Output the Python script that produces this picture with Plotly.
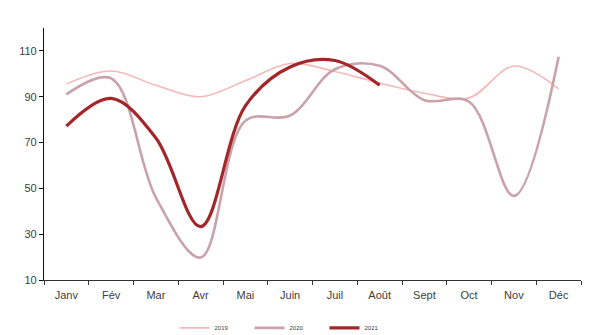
import plotly.graph_objects as go

months = ["Janv", "Fév", "Mar", "Avr", "Mai", "Juin", "Juil", "Août", "Sept", "Oct", "Nov", "Déc"]
y2019 = [95.5, 101.2, 95.0, 90.0, 97.0, 104.5, 101.0, 96.0, 91.5, 89.5, 103.4, 93.4]
y2020 = [91.0, 98.0, 46.0, 19.8, 79.5, 81.8, 102.0, 103.5, 88.5, 87.8, 46.7, 107.5]
y2021 = [77.2, 89.3, 72.0, 33.3, 86.0, 103.0, 105.8, 95.0]

series = [
    ("2019", y2019, "#F5B8B8", 1.6),
    ("2020", y2020, "#C9A2AC", 2.6),
    ("2021", y2021, "#A3262A", 3.2),
]

fig = go.Figure()
for name, vals, color, width in series:
    fig.add_trace(go.Scatter(
        x=months[:len(vals)], y=vals, name=name, mode="lines",
        line=dict(color=color, width=width, shape="spline", smoothing=1.0),
    ))

axis_font = dict(family="Liberation Sans Narrow, Arial Narrow, Liberation Sans, sans-serif",
                 size=11, color="#404040")

fig.update_layout(
    width=591, height=335,
    margin=dict(l=44, r=10, t=28, b=55, autoexpand=False),
    paper_bgcolor="white", plot_bgcolor="white",
    showlegend=True,
    legend=dict(orientation="h", x=0.243, xanchor="left", y=-0.19, yanchor="middle",
                font=dict(family="Liberation Sans Narrow, Liberation Sans, sans-serif",
                          size=6, color="#404040"),
                entrywidth=30, entrywidthmode="pixels", itemwidth=30,
                tracegroupgap=0),
    xaxis=dict(
        type="category", categoryorder="array", categoryarray=months,
        range=[-0.5, 11.5], tickson="boundaries",
        showline=True, linecolor="#333333", linewidth=1.2,
        ticks="outside", ticklen=4, tickcolor="#333333",
        ticklabelstandoff=5,
        showgrid=False, zeroline=False, tickfont=axis_font,
    ),
    yaxis=dict(
        range=[10, 120], tick0=10, dtick=20,
        showline=True, linecolor="#111111", linewidth=1.2,
        ticks="outside", ticklen=4, tickcolor="#111111",
        showgrid=False, zeroline=False, tickfont=axis_font,
    ),
)

fig.write_html("out.html")
